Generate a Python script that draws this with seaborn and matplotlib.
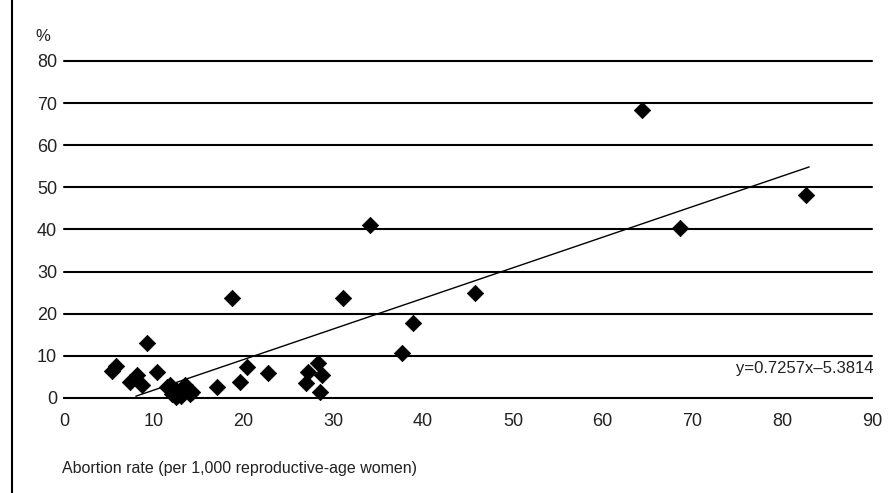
import numpy as np
import pandas as pd
import matplotlib
matplotlib.use("Agg")
import matplotlib.pyplot as plt
import seaborn as sns
from matplotlib.lines import Line2D

# data
abortion_rate = [5.3, 5.8, 9.2, 8.1, 7.3, 8.7, 10.4, 11.5, 12.0, 12.5, 13.0, 13.5,
                 14.0, 13.0, 12.5, 11.8, 14.3, 17.0, 19.6, 20.4, 22.7, 27.2, 27.0,
                 28.3, 28.7, 28.5, 18.7, 31.1, 34.1, 37.6, 38.9, 45.8, 64.4, 68.6, 82.7]
share_pct = [6.4, 7.6, 13.0, 5.5, 3.8, 3.1, 6.2, 2.5, 1.0, 2.0, 0.5, 3.0,
             1.0, 1.5, 0.3, 3.2, 1.5, 2.6, 3.8, 7.4, 5.9, 6.2, 3.6,
             8.3, 5.5, 1.4, 23.8, 23.8, 41.1, 10.7, 17.8, 24.9, 68.4, 40.4, 48.2]

slope = 0.7257
intercept = -5.3814
trend_x = [8.0, 83.0]

y_ticks = [0, 10, 20, 30, 40, 50, 60, 70, 80]
x_ticks = [0, 10, 20, 30, 40, 50, 60, 70, 80, 90]

df = pd.DataFrame({"rate": abortion_rate, "pct": share_pct})
trend = pd.DataFrame({"x": trend_x, "y": [slope * v + intercept for v in trend_x]})

sns.set_style("white")
plt.rcParams['font.family'] = ['Liberation Sans', 'DejaVu Sans']
plt.rcParams['text.color'] = '#222222'
plt.rcParams['xtick.color'] = '#222222'
plt.rcParams['ytick.color'] = '#222222'

fig = plt.figure(figsize=(8.94, 4.93), dpi=100)
ax = fig.add_axes([0.0716, 0.1927, 0.9038, 0.6836])

# horizontal grid lines
for yv in y_ticks[1:]:
    ax.axhline(yv, color="black", lw=1.5, zorder=1, clip_on=False)

sns.lineplot(data=trend, x="x", y="y", color="black", lw=1.0, ax=ax, zorder=2)
sns.scatterplot(data=df, x="rate", y="pct", marker="D", s=70, color="black",
                edgecolor="black", linewidth=0.5, ax=ax, zorder=3, clip_on=False)

ax.set_xlim(0, 90)
ax.set_ylim(0, 80)
ax.set_xticks(x_ticks)
ax.set_yticks(y_ticks)
ax.tick_params(axis="x", direction="out", length=5, width=1.2, color="black",
               labelsize=13, pad=6)
ax.tick_params(axis="y", length=0, labelsize=13, pad=5)
for s in ["top", "right", "left"]:
    ax.spines[s].set_visible(False)
ax.spines["bottom"].set_color("black")
ax.spines["bottom"].set_linewidth(1.5)
ax.set_xlabel("")
ax.set_ylabel("")

ax.text(-0.035, 1.05, "%", transform=ax.transAxes, fontsize=12, ha="left", va="bottom")
ax.text(90.2, 7.0, "y=0.7257x\u20135.3814", fontsize=12, ha="right", va="center")
fig.text(62 / 894, 1 - 468 / 493, "Abortion rate (per 1,000 reproductive-age women)",
         fontsize=11.5, ha="left", va="center")

# left border line of the original figure
fig.add_artist(Line2D([12 / 894, 12 / 894], [0, 1], color="black", lw=1.5))

fig.savefig("out.png", dpi=100)
